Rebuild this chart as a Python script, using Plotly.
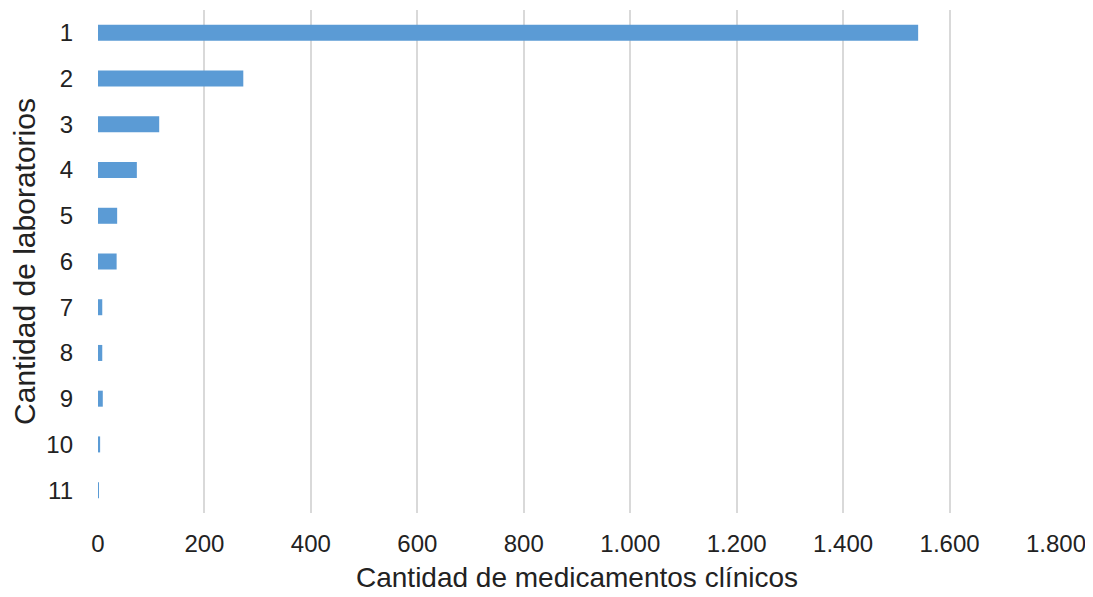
import plotly.graph_objects as go

laboratorios = ["1", "2", "3", "4", "5", "6", "7", "8", "9", "10", "11"]
medicamentos = [1541, 273, 115, 73, 36, 35, 8, 8, 9, 4, 1]
x_ticks = [0, 200, 400, 600, 800, 1000, 1200, 1400, 1600, 1800]
x_labels = ["0", "200", "400", "600", "800", "1.000", "1.200", "1.400", "1.600", "1.800"]

fig = go.Figure(go.Bar(
    x=medicamentos,
    y=laboratorios,
    orientation="h",
    width=0.35,
    marker=dict(color="#5B9BD5", line=dict(width=0)),
))

# page body adds an 8px offset; figure sized to fit the window
fig.update_layout(
    width=1085, height=589,
    margin=dict(l=90, r=37, t=2, b=84),
    paper_bgcolor="white", plot_bgcolor="white",
    font=dict(family="Liberation Sans, Arial, sans-serif", color="#222222", size=24),
    showlegend=False,
)
fig.update_xaxes(
    range=[0, 1800],
    tickvals=x_ticks, ticktext=x_labels,
    showgrid=True, gridcolor="#d9d9d9", gridwidth=1.5,
    zeroline=False, showline=False,
    ticks="", ticklabelstandoff=14,
    tickfont=dict(size=24),
    automargin=False,
    title=dict(text="Cantidad de medicamentos clínicos", font=dict(size=28), standoff=11),
)
fig.update_yaxes(
    categoryorder="array", categoryarray=laboratorios,
    autorange="reversed",
    showgrid=False, zeroline=False,
    showline=False,
    ticks="", ticklabelstandoff=24,
    tickfont=dict(size=24),
    automargin=False,
    title=dict(text="Cantidad de laboratorios", font=dict(size=30), standoff=4),
)

fig.write_html("out.html")
